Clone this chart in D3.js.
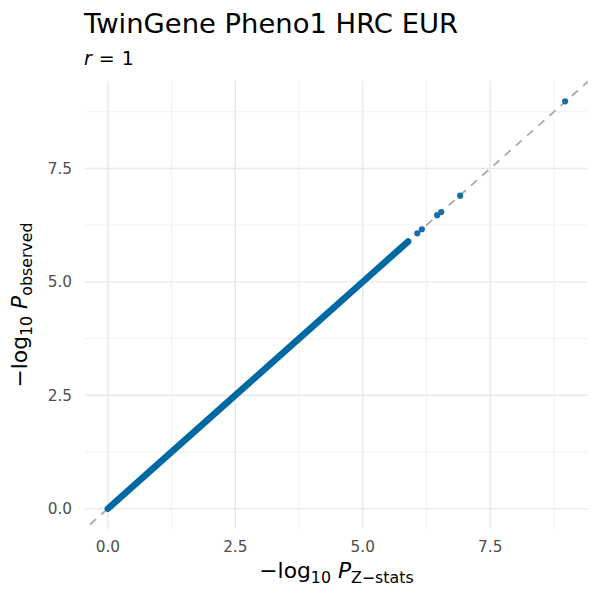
<!DOCTYPE html>
<html>
<head>
<meta charset="utf-8">
<script src="https://cdn.jsdelivr.net/npm/d3@7"></script>
<style>
  html, body { margin: 0; padding: 0; background: #fff; }
  svg { display: block; font-family: "DejaVu Sans", sans-serif; }
</style>
</head>
<body>
<svg id="chart" width="600" height="600"></svg>
<script>
// ---- data ----
const titleText = "TwinGene Pheno1 HRC EUR";
const subtitleR = "1";
// dense band of points running along the diagonal (anchors along the cloud)
const bandX = [0.0, 1.0, 2.5, 4.0, 5.0, 5.89];
const bandY = [0.0, 1.0, 2.5, 4.0, 5.0, 5.89];
// isolated top points
const pointX = [6.07, 6.16, 6.46, 6.54, 6.91, 8.97];
const pointY = [6.07, 6.16, 6.47, 6.54, 6.90, 8.98];
const xTicks = [0, 2.5, 5, 7.5];
const yTicks = [0, 2.5, 5, 7.5];
const xMinor = [1.25, 3.75, 6.25, 8.75];
const yMinor = [1.25, 3.75, 6.25, 8.75];

// ---- layout ----
const svg = d3.select("#chart");
const panel = { left: 85, right: 588, top: 81, bottom: 529 };

const allX = bandX.concat(pointX), allY = bandY.concat(pointY);
const xr = [d3.min(allX), d3.max(allX)], yr = [d3.min(allY), d3.max(allY)];
const xpad = (xr[1] - xr[0]) * 0.05, ypad = (yr[1] - yr[0]) * 0.05;
const x = d3.scaleLinear().domain([xr[0] - xpad, xr[1] + xpad]).range([panel.left, panel.right]);
const y = d3.scaleLinear().domain([yr[0] - ypad, yr[1] + ypad]).range([panel.bottom, panel.top]);

// clip
svg.append("defs").append("clipPath").attr("id", "clip")
  .append("rect").attr("x", panel.left).attr("y", panel.top)
  .attr("width", panel.right - panel.left).attr("height", panel.bottom - panel.top);

// grid
const grid = svg.append("g");
grid.selectAll(".vminor").data(xMinor).join("line")
  .attr("x1", d => x(d)).attr("x2", d => x(d)).attr("y1", panel.top).attr("y2", panel.bottom)
  .attr("stroke", "#ebebeb").attr("stroke-width", 0.7);
grid.selectAll(".hminor").data(yMinor).join("line")
  .attr("y1", d => y(d)).attr("y2", d => y(d)).attr("x1", panel.left).attr("x2", panel.right)
  .attr("stroke", "#ebebeb").attr("stroke-width", 0.7);
grid.selectAll(".vmajor").data(xTicks).join("line")
  .attr("x1", d => x(d)).attr("x2", d => x(d)).attr("y1", panel.top).attr("y2", panel.bottom)
  .attr("stroke", "#e8e8e8").attr("stroke-width", 1.4);
grid.selectAll(".hmajor").data(yTicks).join("line")
  .attr("y1", d => y(d)).attr("y2", d => y(d)).attr("x1", panel.left).attr("x2", panel.right)
  .attr("stroke", "#e8e8e8").attr("stroke-width", 1.4);

// diagonal reference (slope 1, intercept 0)
const lo = Math.min(x.domain()[0], y.domain()[0]) - 1, hi = Math.max(x.domain()[1], y.domain()[1]) + 1;
svg.append("line").attr("clip-path", "url(#clip)")
  .attr("x1", x(lo)).attr("y1", y(lo)).attr("x2", x(hi)).attr("y2", y(hi))
  .attr("stroke", "#a8a8a8").attr("stroke-width", 1.8).attr("stroke-dasharray", "8,7");

// dense band
const bandData = bandX.map((d, i) => [d, bandY[i]]);
svg.append("path").datum(bandData)
  .attr("d", d3.line().x(d => x(d[0])).y(d => y(d[1])))
  .attr("fill", "none").attr("stroke", "#0068a3").attr("stroke-width", 6.6)
  .attr("stroke-linecap", "round");

// isolated points
svg.selectAll(".pt").data(pointX.map((d, i) => [d, pointY[i]])).join("circle")
  .attr("cx", d => x(d[0])).attr("cy", d => y(d[1])).attr("r", 3.1)
  .attr("fill", "#1670a6");

// tick labels
const fmt = d3.format(".1f");
svg.selectAll(".xt").data(xTicks).join("text")
  .attr("x", d => x(d)).attr("y", 552).attr("text-anchor", "middle")
  .attr("font-size", 15.3).attr("fill", "#4d4d4d").text(d => fmt(d));
svg.selectAll(".yt").data(yTicks).join("text")
  .attr("x", 72).attr("y", d => y(d) + 5.4).attr("text-anchor", "end")
  .attr("font-size", 15.3).attr("fill", "#4d4d4d").text(d => fmt(d));

// title & subtitle
svg.append("text").attr("x", 84).attr("y", 32.5).attr("font-size", 27.4).attr("fill", "#000").text(titleText);
const sub = svg.append("text").attr("x", 84).attr("y", 65).attr("font-size", 19).attr("fill", "#000");
sub.append("tspan").attr("font-style", "italic").text("r");
sub.append("tspan").attr("dx", 7).text("=");
sub.append("tspan").attr("dx", 7).text(subtitleR);

// x axis title
const xt = svg.append("text").attr("x", (panel.left + panel.right) / 2).attr("y", 578)
  .attr("text-anchor", "middle").attr("font-size", 21.8).attr("fill", "#000");
xt.append("tspan").text("\u2212log");
xt.append("tspan").attr("font-size", 15.8).attr("dy", 4.5).text("10");
xt.append("tspan").attr("dy", -4.5).text(" ");
xt.append("tspan").attr("font-style", "italic").text("P");
xt.append("tspan").attr("font-size", 15.8).attr("dy", 4.5).text("Z\u2212stats");

// y axis title
const yt = svg.append("text")
  .attr("transform", `translate(27,${(panel.top + panel.bottom) / 2}) rotate(-90)`)
  .attr("text-anchor", "middle").attr("font-size", 21.8).attr("fill", "#000");
yt.append("tspan").text("\u2212log");
yt.append("tspan").attr("font-size", 15.8).attr("dy", 4.5).text("10");
yt.append("tspan").attr("dy", -4.5).text(" ");
yt.append("tspan").attr("font-style", "italic").text("P");
yt.append("tspan").attr("font-size", 15.8).attr("dy", 4.5).text("observed");
</script>
</body>
</html>
